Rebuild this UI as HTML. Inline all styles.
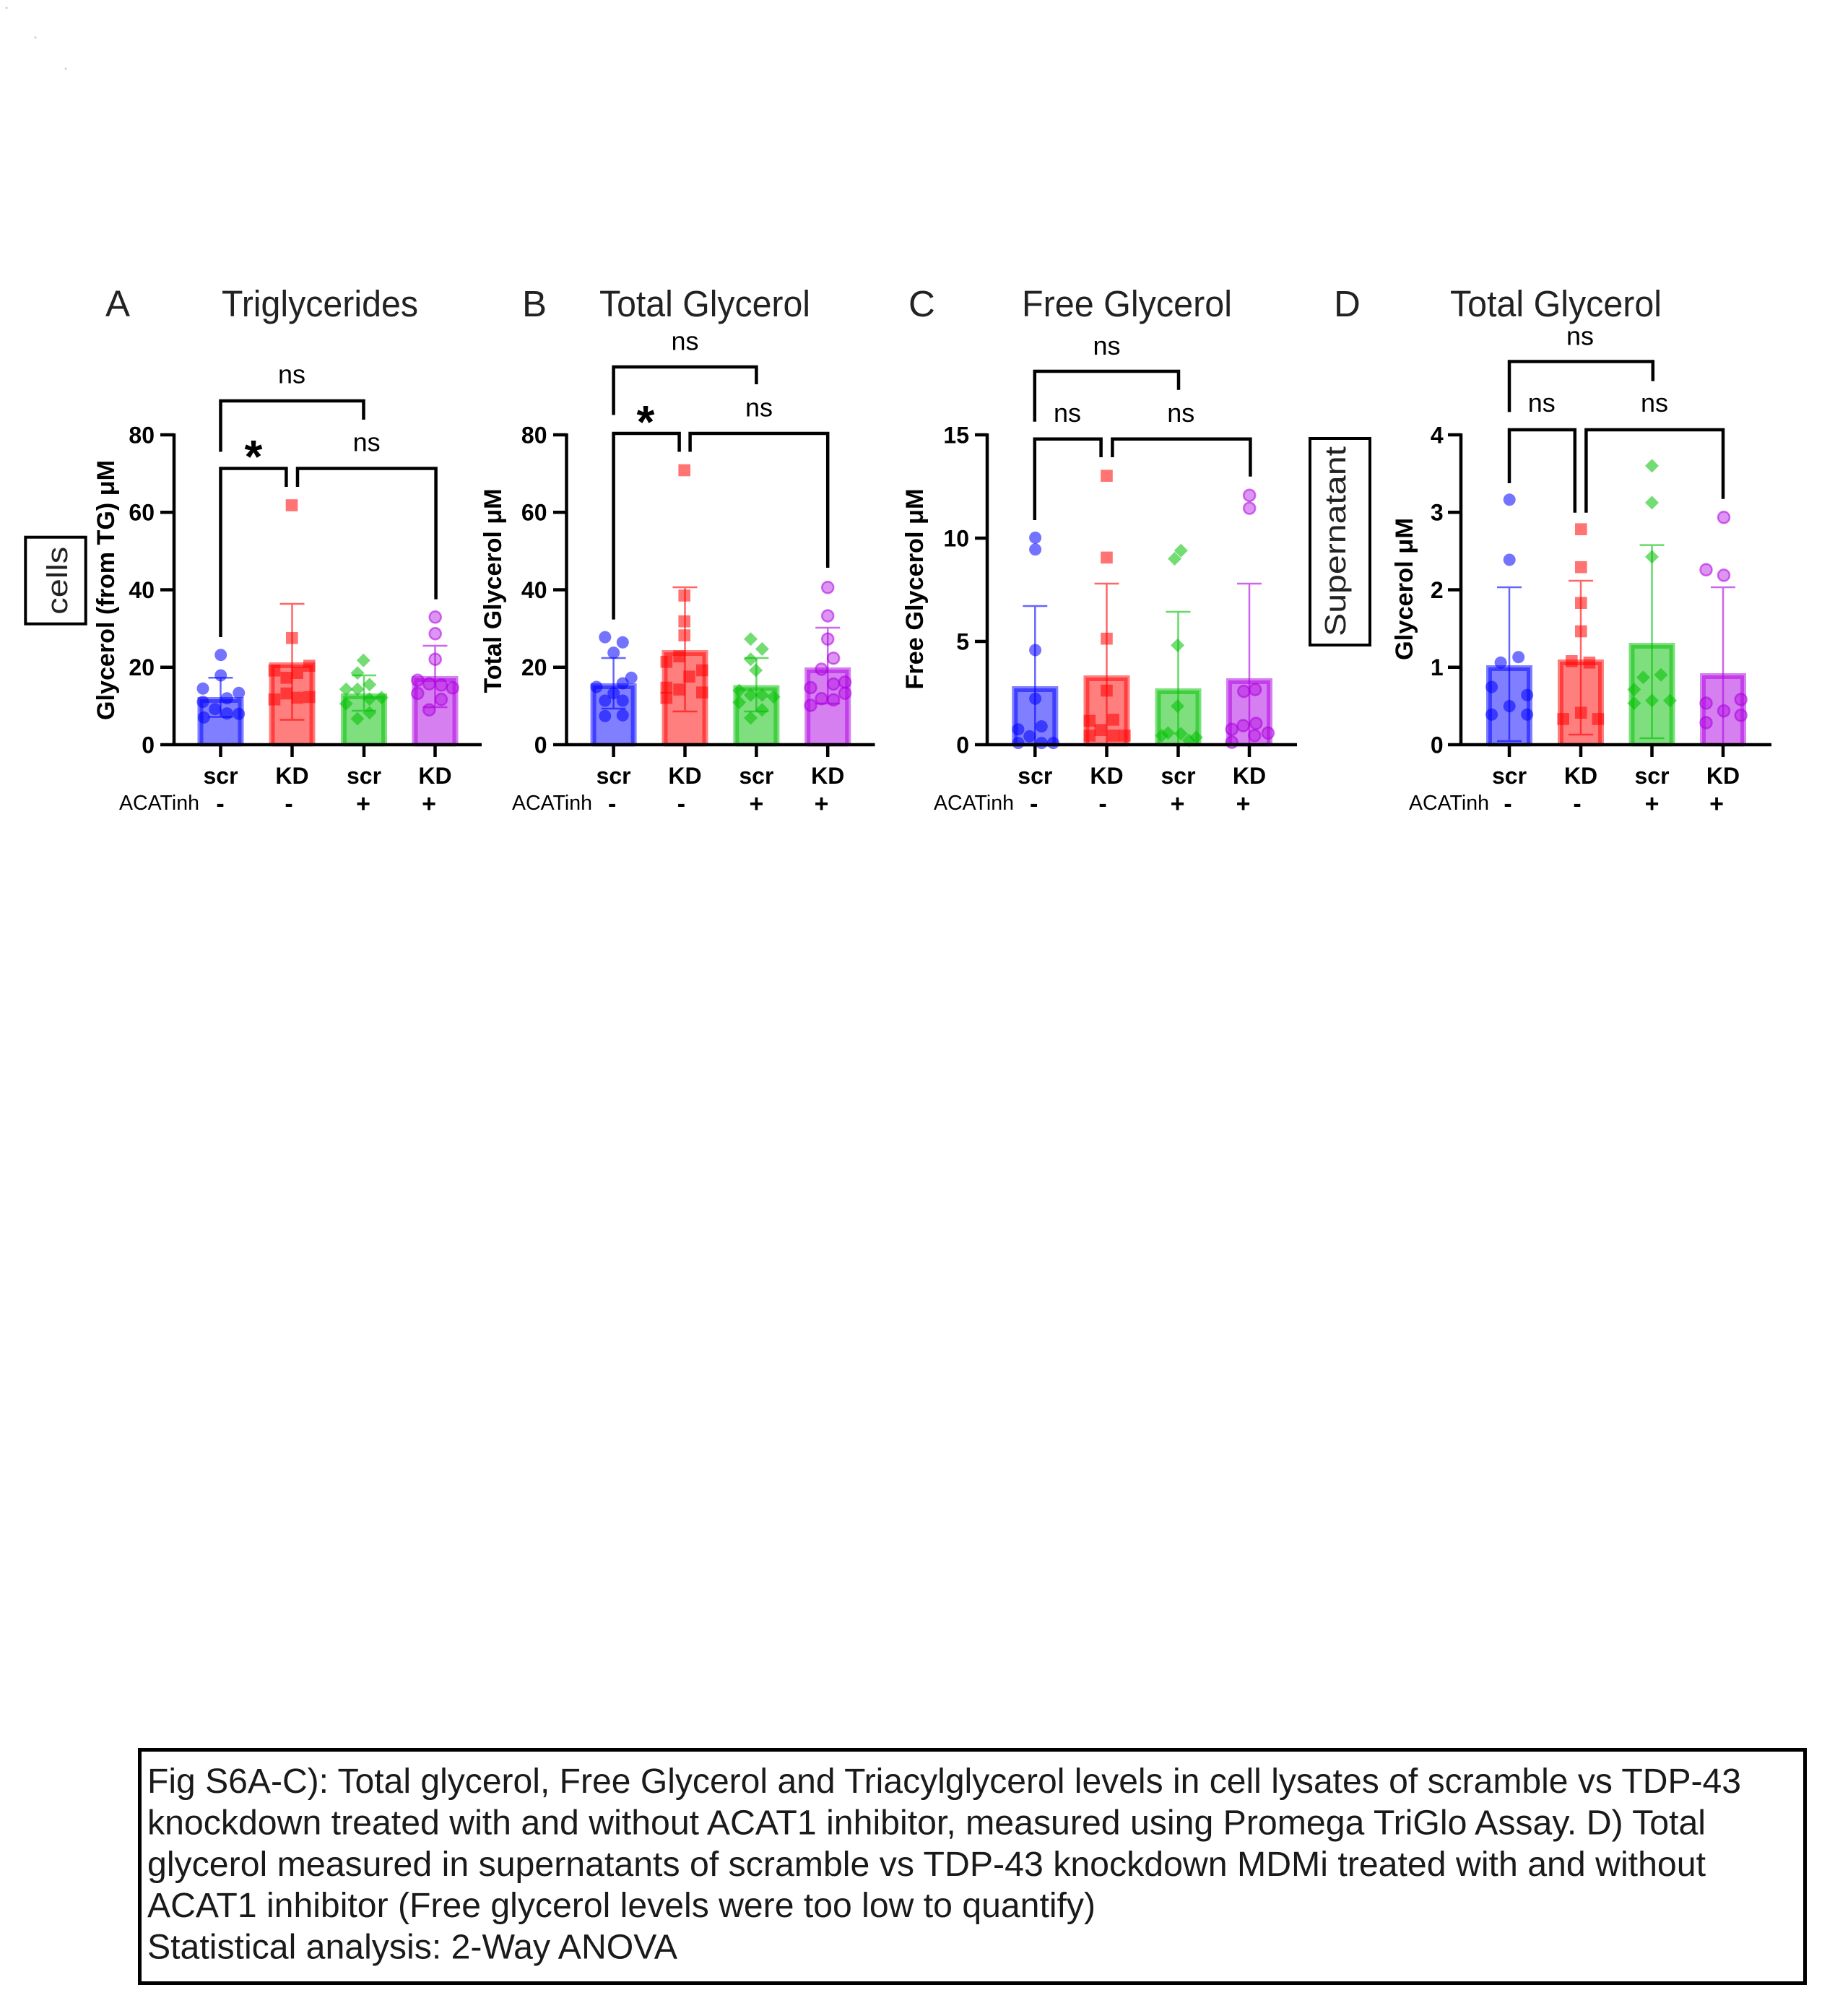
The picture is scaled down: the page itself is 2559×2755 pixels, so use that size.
<!DOCTYPE html>
<html><head><meta charset="utf-8"><style>
html,body{margin:0;padding:0;background:#fff;}
svg{display:block;}
text{font-family:"Liberation Sans",Arial,sans-serif;}
.tl{font-size:32px;font-weight:bold;fill:#000;text-anchor:end;}
.cat{font-size:32px;font-weight:bold;fill:#000;text-anchor:middle;}
.sg{font-size:34px;font-weight:bold;fill:#000;text-anchor:middle;}
.aca{font-size:29px;fill:#000;}
.ttl{font-size:51px;fill:#222;}
.ns{font-size:36px;fill:#000;text-anchor:middle;}
.st{font-size:64px;font-weight:bold;fill:#000;text-anchor:middle;}
.yl{font-size:34px;font-weight:bold;fill:#000;text-anchor:middle;}
.ax{stroke:#000;stroke-width:4.5;fill:none;}
.br{stroke:#000;stroke-width:4.5;fill:none;}
.fb{fill:rgba(0,0,255,.5)} .sb{fill:none;stroke:rgba(0,0,255,.5);stroke-width:5}
.fr{fill:rgba(255,0,0,.5)} .sr{fill:none;stroke:rgba(255,0,0,.5);stroke-width:5}
.fg{fill:rgba(0,192,0,.5)} .sgr{fill:none;stroke:rgba(0,192,0,.5);stroke-width:5}
.fp{fill:rgba(173,0,225,.5)} .sp{fill:none;stroke:rgba(173,0,225,.5);stroke-width:5}
.eb{fill:none;stroke:rgba(0,0,255,.6);stroke-width:2.5}
.er{fill:none;stroke:rgba(255,0,0,.6);stroke-width:2.5}
.eg{fill:none;stroke:rgba(0,192,0,.6);stroke-width:2.5}
.ep{fill:none;stroke:rgba(173,0,225,.6);stroke-width:2.5}
.cap{font-size:48px;fill:#1a1a1a;}
</style></head><body>
<svg width="2559" height="2755" viewBox="0 0 2559 2755" xmlns="http://www.w3.org/2000/svg" xmlns:xlink="http://www.w3.org/1999/xlink">
<defs>
<circle id="cb" r="8.5" fill="rgba(0,0,255,0.55)"/>
<rect id="qr" x="-8.3" y="-8.3" width="16.6" height="16.6" fill="rgba(255,0,0,0.55)"/>
<path id="dg" d="M0,-9.5 L9.5,0 L0,9.5 L-9.5,0Z" fill="rgba(0,192,0,0.55)"/>
<circle id="cp" r="8" fill="rgba(173,0,225,0.42)" stroke="rgba(173,0,225,0.55)" stroke-width="2.5"/>
</defs>
<rect width="2559" height="2755" fill="#fff"/>
<circle cx="9" cy="11" r="1.5" fill="#ccc"/><circle cx="49" cy="52" r="1.5" fill="#ccc"/><circle cx="91" cy="95" r="1.5" fill="#ccc"/>

<!-- Titles -->
<text class="ttl" x="146" y="438">A</text>
<text class="ttl" x="307" y="438" textLength="272" lengthAdjust="spacingAndGlyphs">Triglycerides</text>
<text class="ttl" x="723" y="438">B</text>
<text class="ttl" x="830" y="438" textLength="292" lengthAdjust="spacingAndGlyphs">Total Glycerol</text>
<text class="ttl" x="1258" y="438">C</text>
<text class="ttl" x="1415" y="438" textLength="291" lengthAdjust="spacingAndGlyphs">Free Glycerol</text>
<text class="ttl" x="1847" y="438">D</text>
<text class="ttl" x="2008" y="438" textLength="293" lengthAdjust="spacingAndGlyphs">Total Glycerol</text>

<!-- side boxes -->
<rect x="35.3" y="743.7" width="83.4" height="120" fill="none" stroke="#000" stroke-width="4"/>
<text transform="translate(93,803.7) rotate(-90)" text-anchor="middle" font-size="40" fill="#222" textLength="94" lengthAdjust="spacingAndGlyphs">cells</text>
<rect x="1814" y="607" width="83" height="286" fill="none" stroke="#000" stroke-width="4"/>
<text transform="translate(1863,749.5) rotate(-90)" text-anchor="middle" font-size="41" fill="#222" textLength="263" lengthAdjust="spacingAndGlyphs">Supernatant</text>

<!-- ================= PANEL A ================= -->
<text class="yl" transform="translate(158,817) rotate(-90)" textLength="360" lengthAdjust="spacingAndGlyphs">Glycerol (from TG) μM</text>
<g>
<rect class="fb" x="273.5" y="965" width="64" height="66"/><rect class="sb" x="279" y="970.5" width="53" height="60.5"/>
<rect class="fr" x="372.5" y="917" width="64" height="114"/><rect class="sr" x="378" y="922.5" width="53" height="108.5"/>
<rect class="fg" x="472" y="960" width="64" height="71"/><rect class="sgr" x="477.5" y="965.5" width="53" height="65.5"/>
<rect class="fp" x="570.5" y="936" width="64" height="95"/><rect class="sp" x="576" y="941.5" width="53" height="89.5"/>
<path class="eb" d="M305.5,938.2V992.5M288.5,938.2H322.5M288.5,992.5H322.5"/>
<path class="er" d="M404.5,836V996.5M387.5,836H421.5M387.5,996.5H421.5"/>
<path class="eg" d="M504,935V984M487,935H521M487,984H521"/>
<path class="ep" d="M602.5,894V979M585.5,894H619.5M585.5,979H619.5"/>
<use href="#cb" x="305.7" y="906.7"/><use href="#cb" x="305.7" y="935"/><use href="#cb" x="281" y="953.3"/><use href="#cb" x="330.7" y="959.3"/><use href="#cb" x="314.3" y="966.7"/><use href="#cb" x="281" y="971.7"/><use href="#cb" x="297.7" y="981.7"/><use href="#cb" x="314.3" y="987.7"/><use href="#cb" x="330.7" y="988.3"/><use href="#cb" x="282.3" y="993.3"/>
<use href="#qr" x="404" y="699.5"/><use href="#qr" x="404.3" y="883.3"/><use href="#qr" x="380" y="928.3"/><use href="#qr" x="396.7" y="938.3"/><use href="#qr" x="411.7" y="931.7"/><use href="#qr" x="428.3" y="921.7"/><use href="#qr" x="380" y="968.3"/><use href="#qr" x="396.7" y="960"/><use href="#qr" x="411.7" y="966"/><use href="#qr" x="428.3" y="965"/>
<use href="#dg" x="503.3" y="914.3"/><use href="#dg" x="495" y="931.7"/><use href="#dg" x="511.7" y="947.7"/><use href="#dg" x="479.3" y="954.3"/><use href="#dg" x="495" y="954.3"/><use href="#dg" x="528.3" y="965.7"/><use href="#dg" x="511.7" y="967.7"/><use href="#dg" x="479.3" y="974.3"/><use href="#dg" x="511.7" y="986.7"/><use href="#dg" x="495" y="995"/>
<use href="#cp" x="602.7" y="854.3"/><use href="#cp" x="602.7" y="877.3"/><use href="#cp" x="602.7" y="912.7"/><use href="#cp" x="578.3" y="941.7"/><use href="#cp" x="594.3" y="946.7"/><use href="#cp" x="611" y="948.3"/><use href="#cp" x="626.7" y="952.3"/><use href="#cp" x="578.3" y="960"/><use href="#cp" x="611" y="968.3"/><use href="#cp" x="594.3" y="982.7"/>
</g>
<path class="ax" d="M241,600V1031M222,1031H667M222,602H241M222,709.25H241M222,816.5H241M222,923.75H241M305.5,1031V1048M404.5,1031V1048M504,1031V1048M602.5,1031V1048"/>
<text class="tl" x="214" y="613.4">80</text><text class="tl" x="214" y="720.6">60</text><text class="tl" x="214" y="827.9">40</text><text class="tl" x="214" y="935.1">20</text><text class="tl" x="214" y="1042.4">0</text>
<text class="cat" x="305.5" y="1085">scr</text><text class="cat" x="404.5" y="1085">KD</text><text class="cat" x="504" y="1085">scr</text><text class="cat" x="602.5" y="1085">KD</text>
<text class="aca" x="165" y="1121" textLength="111" lengthAdjust="spacingAndGlyphs">ACATinh</text>
<text class="sg" x="305" y="1124">-</text><text class="sg" x="400" y="1124">-</text><text class="sg" x="503" y="1124">+</text><text class="sg" x="594" y="1124">+</text>
<path class="br" d="M305.5,625.5V555H503.5V581"/>
<path class="br" d="M305.5,882V648.5H396.4V674"/>
<path class="br" d="M412,674V648.5H603.6V829.6"/>
<text class="ns" x="404" y="530.5">ns</text>
<text class="st" x="351" y="654">*</text>
<text class="ns" x="507.6" y="624.5">ns</text>

<!-- ================= PANEL B ================= -->
<text class="yl" transform="translate(694,818) rotate(-90)" textLength="283" lengthAdjust="spacingAndGlyphs">Total Glycerol μM</text>
<g>
<rect class="fb" x="817.6" y="946" width="64" height="85"/><rect class="sb" x="823.1" y="951.5" width="53" height="79.5"/>
<rect class="fr" x="916.5" y="900" width="64" height="131"/><rect class="sr" x="922" y="905.5" width="53" height="125.5"/>
<rect class="fg" x="1015.4" y="948.5" width="64" height="82.5"/><rect class="sgr" x="1020.9" y="954" width="53" height="77"/>
<rect class="fp" x="1114.2" y="924" width="64" height="107"/><rect class="sp" x="1119.7" y="929.5" width="53" height="101.5"/>
<path class="eb" d="M849.6,911V981M832.6,911H866.6M832.6,981H866.6"/>
<path class="er" d="M948.5,813V985M931.5,813H965.5M931.5,985H965.5"/>
<path class="eg" d="M1047.4,911V985M1030.4,911H1064.4M1030.4,985H1064.4"/>
<path class="ep" d="M1146.2,869V974M1129.2,869H1163.2M1129.2,974H1163.2"/>
<use href="#cb" x="837.8" y="882.1"/><use href="#cb" x="862.3" y="889.3"/><use href="#cb" x="849.7" y="903.6"/><use href="#cb" x="874.2" y="938.3"/><use href="#cb" x="826" y="951"/><use href="#cb" x="862.3" y="946"/><use href="#cb" x="849.7" y="959.7"/><use href="#cb" x="837.8" y="970"/><use href="#cb" x="862.3" y="970"/><use href="#cb" x="837.8" y="991.3"/><use href="#cb" x="862.3" y="990.3"/>
<use href="#qr" x="947.7" y="651"/><use href="#qr" x="947.7" y="824.5"/><use href="#qr" x="947.7" y="860.2"/><use href="#qr" x="947.7" y="879.6"/><use href="#qr" x="922.8" y="916.3"/><use href="#qr" x="940.6" y="908.7"/><use href="#qr" x="972.3" y="928"/><use href="#qr" x="922.8" y="952"/><use href="#qr" x="954.5" y="936.7"/><use href="#qr" x="940.6" y="954.6"/><use href="#qr" x="972.3" y="958.7"/><use href="#qr" x="922.8" y="966.3"/>
<use href="#dg" x="1039.5" y="884.7"/><use href="#dg" x="1055.3" y="898.5"/><use href="#dg" x="1039.5" y="912.8"/><use href="#dg" x="1046.6" y="928"/><use href="#dg" x="1023.7" y="956"/><use href="#dg" x="1039.5" y="962.2"/><use href="#dg" x="1055.3" y="962.2"/><use href="#dg" x="1023.7" y="972.4"/><use href="#dg" x="1071.1" y="964.8"/><use href="#dg" x="1055.3" y="982.7"/><use href="#dg" x="1039.5" y="993.9"/>
<use href="#cp" x="1146.2" y="813.3"/><use href="#cp" x="1146.2" y="852.6"/><use href="#cp" x="1146.2" y="884.7"/><use href="#cp" x="1154.1" y="911.2"/><use href="#cp" x="1137.5" y="926.5"/><use href="#cp" x="1170" y="944.4"/><use href="#cp" x="1122.5" y="952"/><use href="#cp" x="1154.1" y="947"/><use href="#cp" x="1170" y="959.7"/><use href="#cp" x="1137.5" y="967.3"/><use href="#cp" x="1122.5" y="976.5"/><use href="#cp" x="1154.1" y="968.9"/>
</g>
<path class="ax" d="M784.5,600V1031M766,1031H1211.5M766,602H784.5M766,709.25H784.5M766,816.5H784.5M766,923.75H784.5M849.6,1031V1048M948.5,1031V1048M1047.4,1031V1048M1146.2,1031V1048"/>
<text class="tl" x="757.5" y="613.4">80</text><text class="tl" x="757.5" y="720.6">60</text><text class="tl" x="757.5" y="827.9">40</text><text class="tl" x="757.5" y="935.1">20</text><text class="tl" x="757.5" y="1042.4">0</text>
<text class="cat" x="849.6" y="1085">scr</text><text class="cat" x="948.5" y="1085">KD</text><text class="cat" x="1047.4" y="1085">scr</text><text class="cat" x="1146.2" y="1085">KD</text>
<text class="aca" x="709" y="1121" textLength="111" lengthAdjust="spacingAndGlyphs">ACATinh</text>
<text class="sg" x="847.7" y="1124">-</text><text class="sg" x="943.4" y="1124">-</text><text class="sg" x="1047.4" y="1124">+</text><text class="sg" x="1137.5" y="1124">+</text>
<path class="br" d="M849.6,574.5V508H1047.4V532"/>
<path class="br" d="M849.6,857.6V600H940.6V625.5"/>
<path class="br" d="M955.6,625.5V600H1146.2V786"/>
<text class="ns" x="948.5" y="484.5">ns</text>
<text class="st" x="894" y="606">*</text>
<text class="ns" x="1051" y="576.5">ns</text>

<!-- ================= PANEL C ================= -->
<text class="yl" transform="translate(1278,815.5) rotate(-90)" textLength="278" lengthAdjust="spacingAndGlyphs">Free Glycerol μM</text>
<g>
<rect class="fb" x="1401.3" y="950" width="64" height="81"/><rect class="sb" x="1406.8" y="955.5" width="53" height="75.5"/>
<rect class="fr" x="1500.5" y="935" width="64" height="96"/><rect class="sr" x="1506" y="940.5" width="53" height="90.5"/>
<rect class="fg" x="1599.5" y="953" width="64" height="78"/><rect class="sgr" x="1605" y="958.5" width="53" height="72.5"/>
<rect class="fp" x="1698" y="939" width="64" height="92"/><rect class="sp" x="1703.5" y="944.5" width="53" height="86.5"/>
<path class="eb" d="M1433.3,839V1031M1416.3,839H1450.3"/>
<path class="er" d="M1532.5,808V1031M1515.5,808H1549.5"/>
<path class="eg" d="M1631.5,847V1031M1614.5,847H1648.5"/>
<path class="ep" d="M1730,808V1031M1713,808H1747"/>
<use href="#cb" x="1433.6" y="744.4"/><use href="#cb" x="1433.6" y="760.7"/><use href="#cb" x="1433.6" y="900"/><use href="#cb" x="1433.6" y="967.3"/><use href="#cb" x="1409.9" y="1009.7"/><use href="#cb" x="1442.3" y="1005.6"/><use href="#cb" x="1425.7" y="1019.4"/><use href="#cb" x="1409.9" y="1028.6"/><use href="#cb" x="1442.3" y="1028.6"/><use href="#cb" x="1458.5" y="1028.6"/>
<use href="#qr" x="1532.5" y="658.7"/><use href="#qr" x="1532.5" y="771.9"/><use href="#qr" x="1532.5" y="884.2"/><use href="#qr" x="1532.5" y="956.1"/><use href="#qr" x="1508.8" y="998"/><use href="#qr" x="1541.6" y="996.4"/><use href="#qr" x="1523.8" y="1010.7"/><use href="#qr" x="1508.8" y="1018.4"/><use href="#qr" x="1541.6" y="1018.4"/><use href="#qr" x="1557.4" y="1018.4"/>
<use href="#dg" x="1635.3" y="762.2"/><use href="#dg" x="1626.6" y="773.5"/><use href="#dg" x="1630.6" y="893.4"/><use href="#dg" x="1630.6" y="977.6"/><use href="#dg" x="1608.8" y="1018.4"/><use href="#dg" x="1617.5" y="1014.8"/><use href="#dg" x="1635.3" y="1015.8"/><use href="#dg" x="1646.4" y="1025"/><use href="#dg" x="1656.3" y="1020.9"/>
<use href="#cp" x="1730.2" y="685.7"/><use href="#cp" x="1730.2" y="703.6"/><use href="#cp" x="1722.3" y="957.1"/><use href="#cp" x="1738.1" y="954.6"/><use href="#cp" x="1721.5" y="1004.6"/><use href="#cp" x="1739.3" y="1001.5"/><use href="#cp" x="1705.7" y="1009.7"/><use href="#cp" x="1737.3" y="1018.4"/><use href="#cp" x="1755.9" y="1014.8"/><use href="#cp" x="1705.7" y="1027.6"/>
</g>
<path class="ax" d="M1367,600V1031M1350,1031H1796M1350,602H1367M1350,745H1367M1350,888H1367M1433.3,1031V1048M1532.5,1031V1048M1631.5,1031V1048M1730,1031V1048"/>
<text class="tl" x="1342" y="613.4">15</text><text class="tl" x="1342" y="756.4">10</text><text class="tl" x="1342" y="899.4">5</text><text class="tl" x="1342" y="1042.4">0</text>
<text class="cat" x="1433.3" y="1085">scr</text><text class="cat" x="1532.5" y="1085">KD</text><text class="cat" x="1631.5" y="1085">scr</text><text class="cat" x="1730" y="1085">KD</text>
<text class="aca" x="1293" y="1121" textLength="111" lengthAdjust="spacingAndGlyphs">ACATinh</text>
<text class="sg" x="1431.7" y="1124">-</text><text class="sg" x="1527" y="1124">-</text><text class="sg" x="1630.6" y="1124">+</text><text class="sg" x="1721.5" y="1124">+</text>
<path class="br" d="M1432.8,583.7V514H1632V539.8"/>
<path class="br" d="M1432.8,720V607.7H1524.6V633"/>
<path class="br" d="M1540.4,633V607.7H1731.4V659.7"/>
<text class="ns" x="1532.5" y="491">ns</text>
<text class="ns" x="1478" y="584">ns</text>
<text class="ns" x="1635.3" y="584">ns</text>

<!-- ================= PANEL D ================= -->
<text class="yl" transform="translate(1956,815.5) rotate(-90)" textLength="197" lengthAdjust="spacingAndGlyphs">Glycerol μM</text>
<g>
<rect class="fb" x="2058" y="921" width="64" height="110"/><rect class="sb" x="2063.5" y="926.5" width="53" height="104.5"/>
<rect class="fr" x="2157" y="913" width="64" height="118"/><rect class="sr" x="2162.5" y="918.5" width="53" height="112.5"/>
<rect class="fg" x="2255.5" y="890" width="64" height="141"/><rect class="sgr" x="2261" y="895.5" width="53" height="135.5"/>
<rect class="fp" x="2354" y="932" width="64" height="99"/><rect class="sp" x="2359.5" y="937.5" width="53" height="93.5"/>
<path class="eb" d="M2090,813V1026M2073,813H2107M2073,1026H2107"/>
<path class="er" d="M2189,804V1017M2172,804H2206M2172,1017H2206"/>
<path class="eg" d="M2287.5,754.6V1022M2270.5,754.6H2304.5M2270.5,1022H2304.5"/>
<path class="ep" d="M2386,813V1031M2369,813H2403"/>
<use href="#cb" x="2090.2" y="691.8"/><use href="#cb" x="2090.2" y="775"/><use href="#cb" x="2102.7" y="909.7"/><use href="#cb" x="2078.1" y="917.3"/><use href="#cb" x="2065.6" y="951"/><use href="#cb" x="2114.7" y="962.2"/><use href="#cb" x="2090.2" y="977.6"/><use href="#cb" x="2065.6" y="989.3"/><use href="#cb" x="2114.7" y="989.3"/>
<use href="#qr" x="2189.3" y="732.7"/><use href="#qr" x="2189.3" y="785.2"/><use href="#qr" x="2189.3" y="834.7"/><use href="#qr" x="2189.3" y="874"/><use href="#qr" x="2176.3" y="915.3"/><use href="#qr" x="2200.9" y="917.3"/><use href="#qr" x="2189.3" y="986.7"/><use href="#qr" x="2164.7" y="995.4"/><use href="#qr" x="2212.9" y="995.4"/>
<use href="#dg" x="2287.5" y="644.9"/><use href="#dg" x="2287.5" y="695.9"/><use href="#dg" x="2287.5" y="770.9"/><use href="#dg" x="2300" y="934.2"/><use href="#dg" x="2275.4" y="937.8"/><use href="#dg" x="2262.9" y="954.6"/><use href="#dg" x="2287.5" y="969.9"/><use href="#dg" x="2312.5" y="969.9"/><use href="#dg" x="2262.9" y="973.5"/>
<use href="#cp" x="2387" y="716.3"/><use href="#cp" x="2362.5" y="788.8"/><use href="#cp" x="2387" y="796.4"/><use href="#cp" x="2410.7" y="968.4"/><use href="#cp" x="2362.5" y="973.5"/><use href="#cp" x="2387" y="984.2"/><use href="#cp" x="2410.7" y="990.3"/><use href="#cp" x="2362.5" y="1000.5"/>
</g>
<path class="ax" d="M2023,600V1031M2005,1031H2453M2005,602H2023M2005,709.25H2023M2005,816.5H2023M2005,923.75H2023M2090,1031V1048M2189,1031V1048M2287.5,1031V1048M2386,1031V1048"/>
<text class="tl" x="1998.7" y="613.4">4</text><text class="tl" x="1998.7" y="720.6">3</text><text class="tl" x="1998.7" y="827.9">2</text><text class="tl" x="1998.7" y="935.1">1</text><text class="tl" x="1998.7" y="1042.4">0</text>
<text class="cat" x="2090" y="1085">scr</text><text class="cat" x="2189" y="1085">KD</text><text class="cat" x="2287.5" y="1085">scr</text><text class="cat" x="2386" y="1085">KD</text>
<text class="aca" x="1951" y="1121" textLength="111" lengthAdjust="spacingAndGlyphs">ACATinh</text>
<text class="sg" x="2088" y="1124">-</text><text class="sg" x="2184" y="1124">-</text><text class="sg" x="2287.5" y="1124">+</text><text class="sg" x="2377" y="1124">+</text>
<path class="br" d="M2090,570.4V500.5H2288.8V527.6"/>
<path class="br" d="M2090,669V595H2180.8V709.7"/>
<path class="br" d="M2196.4,709.7V595H2386V690.8"/>
<text class="ns" x="2188" y="477.5">ns</text>
<text class="ns" x="2134.8" y="570">ns</text>
<text class="ns" x="2291" y="570">ns</text>

<!-- ================= CAPTION ================= -->
<rect x="193.5" y="2422.5" width="2306" height="323" fill="none" stroke="#000" stroke-width="5"/>
<text class="cap" x="204" y="2482" textLength="2207" lengthAdjust="spacingAndGlyphs">Fig S6A-C): Total glycerol, Free Glycerol and Triacylglycerol levels in cell lysates of scramble vs TDP-43</text>
<text class="cap" x="204" y="2539.4" textLength="2158" lengthAdjust="spacingAndGlyphs">knockdown treated with and without ACAT1 inhibitor, measured using Promega TriGlo Assay. D) Total</text>
<text class="cap" x="204" y="2596.8" textLength="2158" lengthAdjust="spacingAndGlyphs">glycerol measured in supernatants of scramble vs TDP-43 knockdown MDMi treated with and without</text>
<text class="cap" x="204" y="2654.2" textLength="1313" lengthAdjust="spacingAndGlyphs">ACAT1 inhibitor (Free glycerol levels were too low to quantify)</text>
<text class="cap" x="204" y="2711.6" textLength="734" lengthAdjust="spacingAndGlyphs">Statistical analysis: 2-Way ANOVA</text>
</svg>
</body></html>
